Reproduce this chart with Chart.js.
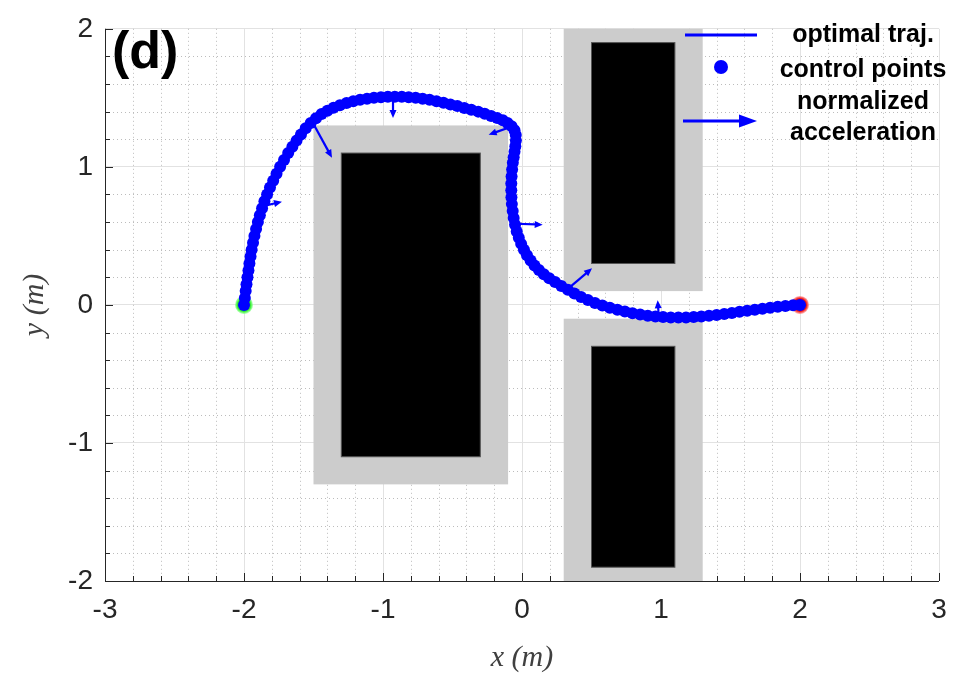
<!DOCTYPE html>
<html>
<head>
<meta charset="utf-8">
<script src="https://cdn.jsdelivr.net/npm/chart.js@4.4.0/dist/chart.umd.min.js"></script>
<style>
  html, body { margin: 0; padding: 0; background: #fff; }
</style>
</head>
<body>
<canvas id="myChart" width="960" height="677"></canvas>
<script>
// trajectory / control points (m)
const trajX = [
  -2.000, -1.994, -1.988, -1.982, -1.975, -1.968, -1.961, -1.953, -1.945, -1.935, -1.925,
  -1.913, -1.900, -1.886, -1.870, -1.853, -1.834, -1.813, -1.790, -1.766, -1.740, -1.712,
  -1.682, -1.652, -1.622, -1.590, -1.556, -1.520, -1.482, -1.442, -1.400, -1.356, -1.310,
  -1.262, -1.214, -1.165, -1.115, -1.065, -1.015, -0.965, -0.915, -0.865, -0.815,
  -0.765, -0.715, -0.665, -0.615, -0.565, -0.515, -0.465, -0.415, -0.365, -0.315, -0.268,
  -0.222, -0.178, -0.138, -0.104, -0.075, -0.054, -0.045, -0.044, -0.048, -0.054, -0.060,
  -0.066, -0.071, -0.075, -0.077, -0.077, -0.076, -0.073, -0.067, -0.060, -0.050, -0.038,
  -0.023, -0.006, 0.014, 0.036, 0.062, 0.090, 0.122, 0.157, 0.196, 0.238, 0.283, 0.330,
  0.377, 0.425, 0.474,
  0.525, 0.578, 0.632, 0.686, 0.740, 0.795, 0.850, 0.905, 0.960, 1.015, 1.070, 1.125,
  1.180, 1.235, 1.290, 1.345, 1.400, 1.455, 1.510, 1.565, 1.620, 1.675, 1.730, 1.785,
  1.840, 1.895, 1.950, 2.000
];
const trajY = [
  0.000, 0.050, 0.100, 0.150, 0.200, 0.250, 0.300, 0.350, 0.400, 0.450, 0.500,
  0.550, 0.600, 0.650, 0.700, 0.750, 0.800, 0.850, 0.900, 0.950, 1.000, 1.050,
  1.100, 1.145, 1.190, 1.235, 1.280, 1.318, 1.352, 1.382, 1.407, 1.428, 1.446,
  1.462, 1.475, 1.486, 1.494, 1.500, 1.505, 1.507, 1.508, 1.507, 1.504,
  1.500, 1.494, 1.486, 1.476, 1.464, 1.452, 1.440, 1.427, 1.414, 1.400, 1.385,
  1.369, 1.353, 1.337, 1.318, 1.295, 1.265, 1.230, 1.190, 1.150, 1.110, 1.070,
  1.030, 0.980, 0.930, 0.880, 0.830, 0.780, 0.730, 0.680, 0.630, 0.580, 0.532,
  0.486, 0.442, 0.400, 0.360, 0.322, 0.286, 0.253, 0.222, 0.193, 0.166, 0.137, 0.109,
  0.083, 0.058, 0.035,
  0.014, -0.004, -0.020, -0.035, -0.048, -0.060, -0.070, -0.078, -0.084, -0.088, -0.091, -0.092,
  -0.091, -0.088, -0.084, -0.079, -0.073, -0.066, -0.058, -0.050, -0.042, -0.035, -0.028, -0.021,
  -0.014, -0.008, -0.003, 0.000
];

// start and goal
const startPt = [-2, 0];
const goalPt = [2, 0];

// obstacles [xmin, xmax, ymin, ymax]
const inflatedBoxes = [[-1.5, -0.1, -1.3, 1.3], [0.3, 1.3, 0.1, 2.0], [0.3, 1.3, -2.0, -0.1]];
const obstacleBoxes = [[-1.3, -0.3, -1.1, 1.1], [0.5, 1.1, 0.3, 1.9], [0.5, 1.1, -1.9, -0.3]];

// normalized acceleration arrows (tail -> head)
const accTailX = [-1.847, -1.500, -0.928, -0.072, -0.050, 0.336, 0.983];
const accTailY = [0.719, 1.310, 1.508, 1.292, 0.588, 0.122, -0.070];
const accHeadX = [-1.727, -1.367, -0.928, -0.240, 0.149, 0.504, 0.976];
const accHeadY = [0.748, 1.066, 1.353, 1.233, 0.581, 0.265, 0.034];

// tick labels
const xTicks = [-3, -2, -1, 0, 1, 2, 3];
const yTicks = [-2, -1, 0, 1, 2];

const legendLabels = ['optimal traj.', 'control points', 'normalized', 'acceleration'];
const panelLabel = '(d)';

const BLUE = '#0000ff';
const AXIS = '#262626';

function drawArrow(ctx, x1, y1, x2, y2, headLen, headW, lw) {
  const a = Math.atan2(y2 - y1, x2 - x1);
  const bx = x2 - headLen * Math.cos(a), by = y2 - headLen * Math.sin(a);
  ctx.save();
  ctx.strokeStyle = BLUE;
  ctx.fillStyle = BLUE;
  ctx.lineWidth = lw;
  ctx.beginPath();
  ctx.moveTo(x1, y1);
  ctx.lineTo(bx + Math.cos(a), by + Math.sin(a));
  ctx.stroke();
  ctx.beginPath();
  ctx.moveTo(x2, y2);
  ctx.lineTo(bx - headW / 2 * Math.sin(a), by + headW / 2 * Math.cos(a));
  ctx.lineTo(bx + headW / 2 * Math.sin(a), by - headW / 2 * Math.cos(a));
  ctx.closePath();
  ctx.fill();
  ctx.restore();
}

const mapDecor = {
  id: 'mapDecor',
  beforeDatasetsDraw(chart) {
    const {ctx, chartArea: ca, scales: {x, y}} = chart;
    ctx.save();
    // minor dotted grid every 0.2
    ctx.strokeStyle = '#bcbcbc';
    ctx.lineWidth = 1;
    ctx.setLineDash([1, 3]);
    for (let k = 1; k < 30; k++) {
      if (k % 5 === 0) continue;
      const px = Math.round(x.getPixelForValue(-3 + k * 0.2)) + 0.5;
      ctx.beginPath(); ctx.moveTo(px, ca.top); ctx.lineTo(px, ca.bottom); ctx.stroke();
    }
    for (let k = 1; k < 20; k++) {
      if (k % 5 === 0) continue;
      const py = Math.round(y.getPixelForValue(-2 + k * 0.2)) + 0.5;
      ctx.beginPath(); ctx.moveTo(ca.left, py); ctx.lineTo(ca.right, py); ctx.stroke();
    }
    ctx.setLineDash([]);
    // inward ticks
    ctx.strokeStyle = AXIS;
    for (let k = 0; k <= 30; k++) {
      const px = Math.round(x.getPixelForValue(-3 + k * 0.2)) + 0.5;
      const len = k % 5 === 0 ? 8 : 5;
      ctx.beginPath(); ctx.moveTo(px, ca.bottom); ctx.lineTo(px, ca.bottom - len); ctx.stroke();
    }
    for (let k = 0; k <= 20; k++) {
      const py = Math.round(y.getPixelForValue(-2 + k * 0.2)) + 0.5;
      const len = k % 5 === 0 ? 8 : 5;
      ctx.beginPath(); ctx.moveTo(ca.left, py); ctx.lineTo(ca.left + len, py); ctx.stroke();
    }
    // obstacles
    ctx.fillStyle = '#cccccc';
    inflatedBoxes.forEach(b => {
      const x0 = x.getPixelForValue(b[0]), x1 = x.getPixelForValue(b[1]);
      const y0 = y.getPixelForValue(b[3]), y1 = y.getPixelForValue(b[2]);
      ctx.fillRect(x0, y0, x1 - x0, y1 - y0);
    });
    ctx.fillStyle = '#000000';
    ctx.strokeStyle = '#555555';
    obstacleBoxes.forEach(b => {
      const x0 = x.getPixelForValue(b[0]), x1 = x.getPixelForValue(b[1]);
      const y0 = y.getPixelForValue(b[3]), y1 = y.getPixelForValue(b[2]);
      ctx.fillRect(x0, y0, x1 - x0, y1 - y0);
      ctx.strokeRect(x0, y0, x1 - x0, y1 - y0);
    });
    // axis lines
    ctx.strokeStyle = AXIS;
    ctx.lineWidth = 1;
    ctx.beginPath();
    ctx.moveTo(ca.left + 0.5, ca.top);
    ctx.lineTo(ca.left + 0.5, Math.round(ca.bottom) + 0.5);
    ctx.lineTo(ca.right, Math.round(ca.bottom) + 0.5);
    ctx.stroke();
    ctx.restore();
  },
  afterDatasetsDraw(chart) {
    const {ctx, chartArea: ca, scales: {x, y}} = chart;
    for (let i = 0; i < accTailX.length; i++) {
      drawArrow(ctx,
        x.getPixelForValue(accTailX[i]), y.getPixelForValue(accTailY[i]),
        x.getPixelForValue(accHeadX[i]), y.getPixelForValue(accHeadY[i]), 8, 7, 2.2);
    }
    ctx.save();
    // legend
    const lx0 = ca.right - 254, lx1 = ca.right - 182;
    ctx.strokeStyle = BLUE;
    ctx.lineWidth = 3;
    ctx.beginPath(); ctx.moveTo(lx0, 35); ctx.lineTo(lx1, 35); ctx.stroke();
    ctx.fillStyle = BLUE;
    ctx.beginPath(); ctx.arc((lx0 + lx1) / 2, 67, 7, 0, Math.PI * 2); ctx.fill();
    drawArrow(ctx, lx0 - 2, 121, lx1, 121, 18, 13, 3);
    ctx.fillStyle = '#000';
    ctx.font = 'bold 25px "Liberation Sans", Arial, sans-serif';
    ctx.textAlign = 'center';
    ctx.textBaseline = 'middle';
    const tx = ca.right - 76;
    ctx.fillText(legendLabels[0], tx, 35);
    ctx.fillText(legendLabels[1], tx, 70);
    ctx.fillText(legendLabels[2], tx, 102);
    ctx.fillText(legendLabels[3], tx, 133);
    // panel label
    ctx.font = 'bold 52px "Liberation Sans", Arial, sans-serif';
    ctx.textAlign = 'left';
    ctx.textBaseline = 'alphabetic';
    ctx.fillText(panelLabel, ca.left + 7, 68);
    ctx.restore();
  }
};

const trajPoints = trajX.map((v, i) => ({x: v, y: trajY[i]}));

const data = {
  datasets: [
    {
      label: 'control points',
      data: trajPoints,
      showLine: false,
      pointRadius: 6,
      pointBackgroundColor: BLUE,
      pointBorderWidth: 0,
      order: 1
    },
    {
      label: 'optimal traj.',
      data: trajPoints,
      showLine: true,
      borderColor: BLUE,
      borderWidth: 8,
      pointRadius: 0,
      order: 2
    },
    {
      label: 'start',
      data: [{x: startPt[0], y: startPt[1]}],
      pointRadius: 8,
      pointBackgroundColor: '#2ee62e',
      pointBorderColor: 'rgba(120,255,120,0.7)',
      pointBorderWidth: 2,
      order: 3
    },
    {
      label: 'goal',
      data: [{x: goalPt[0], y: goalPt[1]}],
      pointRadius: 8,
      pointBackgroundColor: '#e81414',
      pointBorderColor: 'rgba(255,110,110,0.7)',
      pointBorderWidth: 2,
      order: 3
    }
  ]
};

const config = {
  type: 'scatter',
  data,
  options: {
    responsive: false,
    animation: false,
    devicePixelRatio: 1,
    layout: { padding: { left: 0, right: 21, top: 23, bottom: 0 } },
    plugins: {
      legend: { display: false },
      tooltip: { enabled: false }
    },
    scales: {
      x: {
        type: 'linear',
        min: -3,
        max: 3,
        afterBuildTicks: s => { s.ticks = xTicks.map(v => ({value: v})); },
        afterFit: s => { s.height = 96; },
        ticks: {
          font: { family: '"Liberation Sans", Arial, sans-serif', size: 28 },
          color: AXIS,
          padding: 12,
          maxRotation: 0,
          autoSkip: false
        },
        grid: { color: '#e2e2e2', lineWidth: 1, drawTicks: false },
        border: { display: false },
        title: {
          display: true,
          text: 'x (m)',
          font: { family: '"Liberation Serif", "DejaVu Serif", serif', style: 'italic', size: 30 },
          color: '#404040',
          padding: { top: 0, bottom: 1 }
        }
      },
      y: {
        type: 'linear',
        min: -2,
        max: 2,
        afterBuildTicks: s => { s.ticks = yTicks.map(v => ({value: v})); },
        afterFit: s => { s.width = 105; },
        ticks: {
          font: { family: '"Liberation Sans", Arial, sans-serif', size: 28 },
          color: AXIS,
          padding: 12,
          autoSkip: false
        },
        grid: { color: '#e2e2e2', lineWidth: 1, drawTicks: false },
        border: { display: false },
        title: {
          display: true,
          text: 'y (m)',
          font: { family: '"Liberation Serif", "DejaVu Serif", serif', style: 'italic', size: 30 },
          color: '#404040',
          padding: { top: 17, bottom: 0 }
        }
      }
    }
  },
  plugins: [mapDecor]
};

const myChart = new Chart(document.getElementById('myChart'), config);
</script>
</body>
</html>
